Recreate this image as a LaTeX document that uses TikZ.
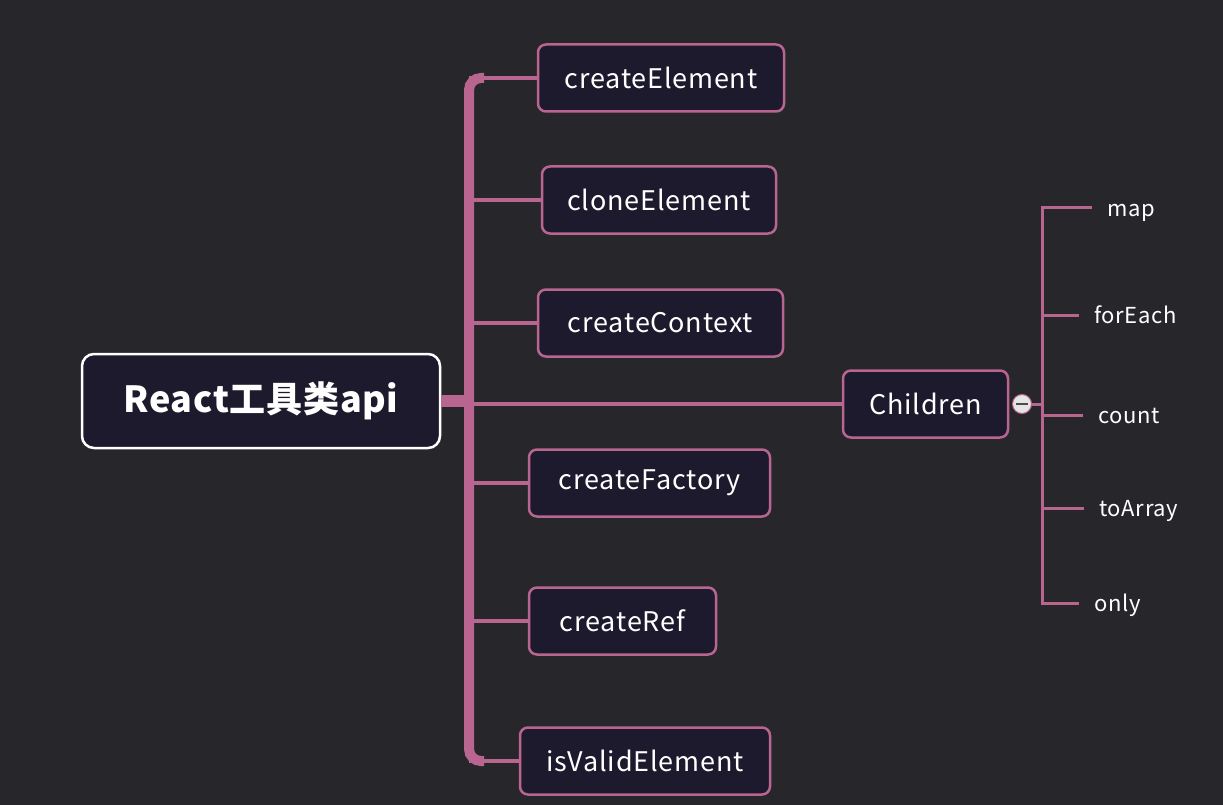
\documentclass[tikz,border=0pt]{standalone}
\usepackage{fontspec}
\setmainfont{Noto Sans CJK SC}[LetterSpace=3]
\newfontfamily\rootfont{Noto Sans CJK SC}[LetterSpace=2]
\usetikzlibrary{positioning,calc}
\definecolor{bg}{HTML}{27262B}
\definecolor{boxfill}{HTML}{1E1A2D}
\definecolor{rose}{HTML}{B8668F}
\begin{document}
\begin{tikzpicture}[x=1pt,y=-1pt,
    topic/.style={draw=rose,line width=2.5pt,fill=boxfill,rounded corners=8pt,text=white,
      minimum height=67,inner sep=0pt,font=\fontsize{27}{30}\selectfont},
    leaf/.style={text=white,anchor=west,inner xsep=15pt,text height=20pt,text depth=4pt,
      font=\fontsize{22}{24}\selectfont},
    trunk/.style={draw=rose,line width=10pt,rounded corners=12pt},
    branch/.style={draw=rose,line width=4.5pt},
    twig/.style={draw=rose,line width=3pt}]
  \fill[bg](0,0)rectangle(1223,805);
  \useasboundingbox(0,0)rectangle(1223,805);
  \node[topic,draw=white,minimum width=358,minimum height=94,rounded corners=12pt,
    font=\rootfont\bfseries\fontsize{36}{40}\selectfont](R)at(261,401){React工具类api};
  \coordinate(T)at(469,401);
  \draw[trunk](484,78)--(469,78)--(469,761)--(484,761);
  \draw[rose,line width=12pt](R.east)--(T);
  \foreach \n/\t/\x/\w/\y in{E/createElement/661/246/78,L/cloneElement/659/234/200,
      X/createContext/660.5/245/323,Fa/createFactory/649.5/241/483,
      Rf/createRef/622.5/187/621,V/isValidElement/645/250/761}{
    \node[topic,minimum width=\w](\n)at(\x,\y){\t};
    \draw[branch](T|-\n.west)--(\n.west);
  }
  \node[topic,minimum width=165](C)at(925.5,404){Children};
  \draw[branch](T|-C.west)--(C.west);
  \node[circle,draw=rose,fill=white!90!black,line width=1pt,minimum size=19pt,inner sep=0pt](F)at(1022,404){};
  \draw[line width=2pt,black!70]([xshift=-6pt]F.center)--([xshift=6pt]F.center);
  \coordinate(H)at(1042,404);
  \draw[twig](F.east)--(H);
  \foreach \n/\t/\x/\y in{m/map/1092/208,f/forEach/1079/315,c/count/1083/415,
      a/toArray/1084/508,o/only/1079/603}{
    \node[leaf](\n)at(\x,\y){\t};
    \draw[twig](\n.west)-|(H);
  }
\end{tikzpicture}
\end{document}
